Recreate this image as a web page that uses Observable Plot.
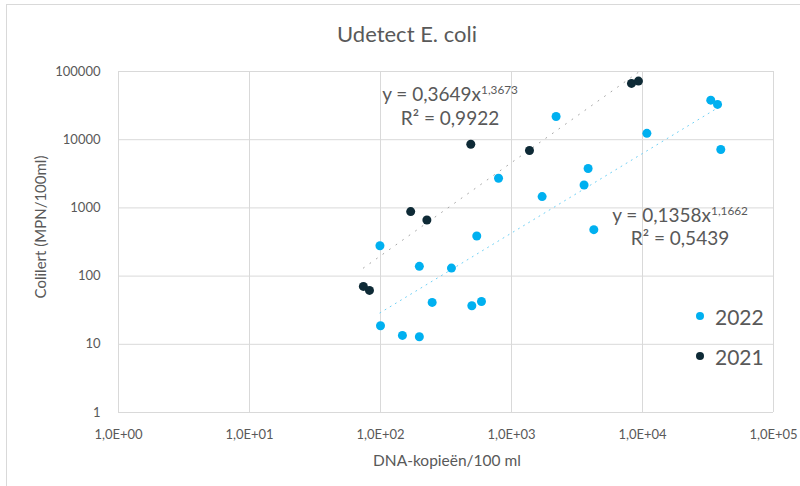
<!DOCTYPE html>
<html>
<head>
<meta charset="utf-8">
<script src="https://cdn.jsdelivr.net/npm/d3@7"></script>
<script src="https://cdn.jsdelivr.net/npm/@observablehq/plot@0.6"></script>
<style>
  html, body { margin: 0; padding: 0; background: #fff; }
  #wrap { position: relative; width: 800px; height: 486px; overflow: hidden; font-family: Lato, "Open Sans", sans-serif; color: #595959; }
  #wrap svg { position: absolute; left: 0; top: 0; }
  .lbl { position: absolute; white-space: nowrap; line-height: 1; transform: translate(-50%, -50%); }
  .lbl sup { font-size: 0.62em; line-height: 0; vertical-align: 0.55em; }
  .leg { position: absolute; white-space: nowrap; line-height: 1; transform: translateY(-50%); }
  .mk { position: absolute; width: 8px; height: 8px; border-radius: 50%; transform: translate(-50%, -50%); }
  #border { position: absolute; left: 6px; top: 4px; width: 820px; height: 520px; border-left: 1px solid #d9d9d9; border-top: 1px solid #d9d9d9; }
</style>
</head>
<body>
<div id="wrap"><div id="border"></div></div>
<script>
// ---- data ----
const x2022 = [99, 100, 147, 198, 198, 248, 348, 498, 543, 590, 796, 1713, 2190, 3580, 3845, 4250, 10800, 33200, 37400, 39600];
const y2022 = [279, 18.7, 13.5, 12.9, 139, 41.1, 131, 36.7, 387, 42.5, 2720, 1465, 21900, 2170, 3780, 480, 12400, 38000, 32900, 7180];
const x2021 = [74, 82.4, 170, 226, 489, 1372, 8240, 9310];
const y2021 = [70.6, 61.7, 883, 664, 8590, 6940, 66900, 72300];

const series = ["2022", "2021"];
const colors = ["#00B0F0", "#0E2A36"];
const trendColors = ["#6fd0f5", "#a6a6a6"];
// power trendlines y = a * x^b
const trendA = [0.1358, 0.3649];
const trendB = [1.1662, 1.3673];
const trendR2 = ["0,5439", "0,9922"];
const trendALabel = ["0,1358", "0,3649"];
const trendBLabel = ["1,1662", "1,3673"];

const xTicks = [1, 10, 100, 1000, 10000, 100000];
const xTickLabels = ["1,0E+00", "1,0E+01", "1,0E+02", "1,0E+03", "1,0E+04", "1,0E+05"];
const yTicks = [1, 10, 100, 1000, 10000, 100000];
const yTickLabels = ["1", "10", "100", "1000", "10000", "100000"];

const titleText = "Udetect E. coli";
const xTitle = "DNA-kopieën/100 ml";
const yTitle = "Colilert (MPN/100ml)";

// ---- build ----
const pts2022 = x2022.map((x, i) => ({x, y: y2022[i]}));
const pts2021 = x2021.map((x, i) => ({x, y: y2021[i]}));
function trend(xs, a, b) {
  const lo = d3.min(xs), hi = d3.max(xs);
  return [lo, hi].map(x => ({x, y: a * Math.pow(x, b)}));
}
const tr2022 = trend(x2022, trendA[0], trendB[0]);
const tr2021 = trend(x2021, trendA[1], trendB[1]);

const chart = Plot.plot({
  width: 800, height: 486,
  marginLeft: 118, marginRight: 27, marginTop: 71, marginBottom: 74,
  style: {fontFamily: "Lato, sans-serif", fontSize: "13px", color: "#595959", background: "transparent", overflow: "visible"},
  x: {type: "log", domain: [1, 1e5], ticks: xTicks, tickFormat: d => xTickLabels[xTicks.indexOf(d)], tickSize: 0, tickPadding: 17, label: null},
  y: {type: "log", domain: [1, 1e5], ticks: yTicks, tickFormat: d => yTickLabels[yTicks.indexOf(d)], tickSize: 0, tickPadding: 18, label: null},
  marks: [
    Plot.gridX(xTicks, {stroke: "#d9d9d9", strokeOpacity: 1, strokeWidth: 1}),
    Plot.gridY(yTicks, {stroke: "#d9d9d9", strokeOpacity: 1, strokeWidth: 1}),
    Plot.line(tr2021, {x: "x", y: "y", stroke: trendColors[1], strokeWidth: 1, strokeDasharray: "1,7"}),
    Plot.line(tr2022, {x: "x", y: "y", stroke: trendColors[0], strokeWidth: 1, strokeDasharray: "1,5"}),
    Plot.dot(pts2021, {x: "x", y: "y", r: 4.5, fill: colors[1], stroke: "none"}),
    Plot.dot(pts2022, {x: "x", y: "y", r: 4.5, fill: colors[0], stroke: "none"})
  ]
});
const wrap = document.getElementById("wrap");
wrap.appendChild(chart);

function addLabel(html, cx, cy, size, cls = "lbl", extra = "") {
  const d = document.createElement("div");
  d.className = cls;
  d.style.left = cx + "px";
  d.style.top = cy + "px";
  d.style.fontSize = size + "px";
  if (extra) d.style.transform = extra;
  d.innerHTML = html;
  wrap.appendChild(d);
  return d;
}
addLabel(titleText, 407, 34, 22);
addLabel(xTitle, 447, 461, 15.5);
addLabel(yTitle, 40, 227, 15, "lbl", "translate(-50%,-50%) rotate(-90deg)");

// trendline equations
addLabel(`y = ${trendALabel[1]}x<sup>${trendBLabel[1]}</sup>`, 450, 93, 19);
addLabel(`R² = ${trendR2[1]}`, 450, 117, 19);
addLabel(`y = ${trendALabel[0]}x<sup>${trendBLabel[0]}</sup>`, 680, 214, 19);
addLabel(`R² = ${trendR2[0]}`, 680, 237, 19);

// legend
const legY = [316, 356];
series.forEach((s, i) => {
  const m = document.createElement("div");
  m.className = "mk";
  m.style.left = "700px";
  m.style.top = legY[i] + "px";
  m.style.background = colors[i];
  wrap.appendChild(m);
  addLabel(s, 715, legY[i], 21, "leg");
});
</script>
</body>
</html>
